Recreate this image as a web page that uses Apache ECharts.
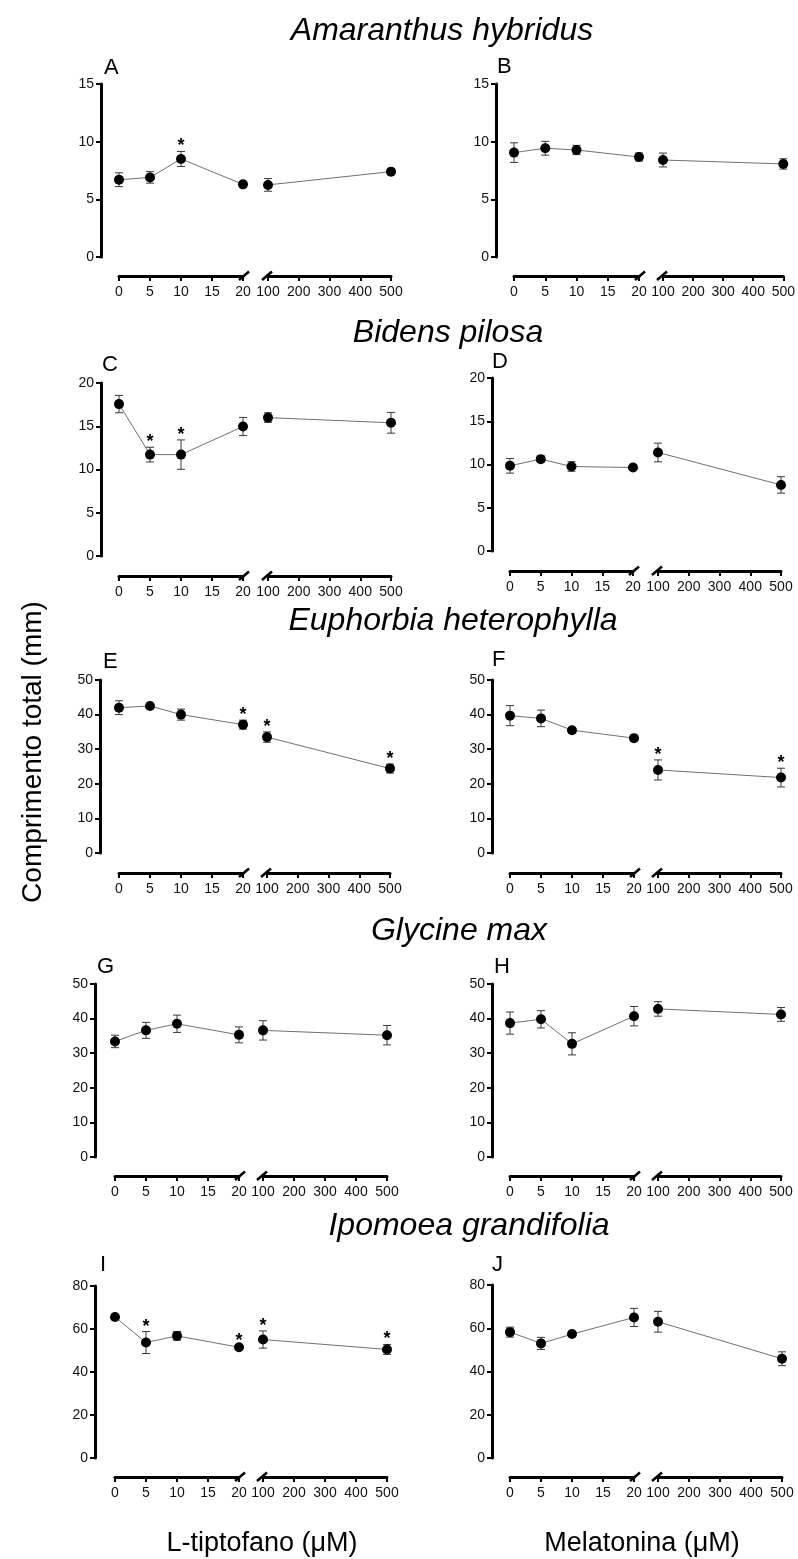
<!DOCTYPE html>
<html><head><meta charset="utf-8">
<script src="https://cdn.jsdelivr.net/npm/echarts@6/dist/echarts.min.js"></script>
<style>html,body{margin:0;padding:0;background:#fff}#c{width:798px;height:1559px}</style>
</head><body><div id="c"></div>
<script>
// ---------- DATA ----------
const lowDoses = [0, 5, 10, 20];       // µM, left axis segment
const highDoses = [100, 500];          // µM, right axis segment
const lowTicks = ['0', '5', '10', '15', '20'];
const highTicks = ['100', '200', '300', '400', '500'];
const species = ['Amaranthus hybridus', 'Bidens pilosa', 'Euphorbia heterophylla', 'Glycine max', 'Ipomoea grandifolia'];
const panelLetters = ['A', 'B', 'C', 'D', 'E', 'F', 'G', 'H', 'I', 'J'];
const yMaxes = [15, 15, 20, 20, 50, 50, 50, 50, 80, 80];
const yIntervals = [5, 5, 5, 5, 10, 10, 10, 10, 20, 20];
const xTitles = ['L-tiptofano (\u03BCM)', 'Melatonina (\u03BCM)'];
const yTitle = 'Comprimento total (mm)';

// means for doses 0,5,10,20,100,500 ; error = SE ; sig = asterisk
const meanA = [6.7, 6.9, 8.5, 6.3, 6.25, 7.4];
const errA  = [0.6, 0.5, 0.65, 0.2, 0.55, 0.15];
const sigA  = [0, 0, 1, 0, 0, 0];
const meanB = [9.05, 9.43, 9.28, 8.67, 8.41, 8.07];
const errB  = [0.85, 0.6, 0.4, 0.35, 0.6, 0.45];
const sigB  = [0, 0, 0, 0, 0, 0];
const meanC = [17.56, 11.72, 11.72, 14.97, 16.0, 15.4];
const errC  = [1.0, 0.85, 1.7, 1.05, 0.55, 1.2];
const sigC  = [0, 1, 1, 0, 0, 0];
const meanD = [9.85, 10.62, 9.77, 9.65, 11.39, 7.64];
const errD  = [0.85, 0.35, 0.55, 0.2, 1.08, 0.95];
const sigD  = [0, 0, 0, 0, 0, 0];
const meanE = [42.0, 42.5, 40.0, 37.1, 33.5, 24.4];
const errE  = [2.0, 0.7, 1.6, 1.3, 1.5, 1.3];
const sigE  = [0, 0, 0, 1, 1, 1];
const meanF = [39.7, 38.9, 35.5, 33.2, 24.0, 21.8];
const errF  = [2.9, 2.4, 0.5, 0.4, 2.9, 2.7];
const sigF  = [0, 0, 0, 0, 1, 1];
const meanG = [33.4, 36.6, 38.5, 35.3, 36.6, 35.2];
const errG  = [1.8, 2.3, 2.5, 2.3, 2.8, 2.8];
const sigG  = [0, 0, 0, 0, 0, 0];
const meanH = [38.7, 39.8, 32.7, 40.7, 42.8, 41.2];
const errH  = [3.2, 2.5, 3.2, 2.8, 2.1, 2.0];
const sigH  = [0, 0, 0, 0, 0, 0];
const meanI = [65.6, 53.7, 56.8, 51.5, 55.1, 50.5];
const errI  = [0.6, 5.1, 2.0, 0.8, 4.0, 2.3];
const sigI  = [0, 1, 0, 1, 1, 1];
const meanJ = [58.2, 53.0, 57.3, 65.0, 63.0, 45.9];
const errJ  = [2.3, 2.8, 1.0, 4.2, 4.8, 3.2];
const sigJ  = [0, 0, 0, 0, 0, 0];

const means = [meanA, meanB, meanC, meanD, meanE, meanF, meanG, meanH, meanI, meanJ];
const errs  = [errA, errB, errC, errD, errE, errF, errG, errH, errI, errJ];
const sigs  = [sigA, sigB, sigC, sigD, sigE, sigF, sigG, sigH, sigI, sigJ];

// ---------- LAYOUT (pixels) ----------
// [yAxisX, yTop, yZero, xAxisLineY, x0, x20, x100, x500]
const layout = [
  [101, 84, 257, 276, 119, 243, 268, 391],
  [496, 84, 257, 276, 514, 639, 663, 786],
  [101, 383, 556, 576, 119, 243, 268, 391],
  [492, 378, 551, 571, 510, 633, 658, 781],
  [100, 680, 853, 873, 119, 243, 267, 390],
  [492, 680, 853, 873, 510, 634, 658, 781],
  [95, 984, 1157, 1176, 115, 239, 263, 387],
  [492, 984, 1157, 1176, 510, 634, 658, 781],
  [95, 1286, 1458, 1477, 115, 239, 263, 387],
  [492, 1285, 1458, 1477, 510, 634, 658, 782]
];
const letterPos = [[104,78],[497,77],[102,375],[492,372],[103,672],[492,670],[97,977],[494,977],[100,1275],[492,1275]];
const titlePos = [[442,31],[448,333],[453,621],[459,931],[469,1226]];

const FONT = '"Liberation Sans", Arial, sans-serif';

const grids = [], xAxes = [], yAxes = [], series = [], graphics = [];

function errRender(params, api) {
  const x = api.value(0), m = api.value(1), e = api.value(2), s = api.value(3);
  const top = api.coord([x, m + e]);
  const bot = api.coord([x, m - e]);
  const cw = 4;
  const st = { stroke: '#3a3a3a', lineWidth: 1 };
  const ch = [
    { type: 'line', shape: { x1: top[0], y1: top[1], x2: bot[0], y2: bot[1] }, style: st },
    { type: 'line', shape: { x1: top[0] - cw, y1: top[1], x2: top[0] + cw, y2: top[1] }, style: st },
    { type: 'line', shape: { x1: bot[0] - cw, y1: bot[1], x2: bot[0] + cw, y2: bot[1] }, style: st }
  ];
  if (s) {
    ch.push({ type: 'text', x: top[0], y: top[1] - 5,
      style: { text: '*', fontSize: 18, fontWeight: 'bold', fontFamily: FONT, fill: '#000', align: 'center', verticalAlign: 'middle' } });
  }
  return { type: 'group', children: ch };
}

function makeSlash(off, dxa, dxb) {
  return function (params, api) {
    const p = api.coord([api.value(0), api.value(1)]);
    const ly = p[1] + off;
    return { type: 'line', shape: { x1: p[0] + dxa, y1: ly + 4, x2: p[0] + dxb, y2: ly - 4.5 },
      style: { stroke: '#000', lineWidth: 2.5 } };
  };
}

for (let p = 0; p < 10; p++) {
  const [yx, yTop, y0, xLine, x0, x20, x100, x500] = layout[p];
  const gL = grids.length, gR = gL + 1;
  grids.push({ left: x0, top: yTop, width: x20 - x0, height: y0 - yTop, containLabel: false });
  grids.push({ left: x100, top: yTop, width: x500 - x100, height: y0 - yTop, containLabel: false });
  const xOff = xLine - y0;
  const axLine = { show: true, onZero: false, lineStyle: { color: '#000', width: 3 } };
  const axTick = { show: true, length: 5, lineStyle: { color: '#000', width: 2 } };
  const axLab = { color: '#111', fontSize: 14, fontFamily: FONT };
  xAxes.push({ gridIndex: gL, type: 'value', min: 0, max: 20, interval: 5, position: 'bottom', offset: xOff,
    axisLine: axLine, axisTick: axTick, splitLine: { show: false },
    axisLabel: Object.assign({ margin: 9, formatter: v => lowTicks[Math.round(v / 5)] }, axLab) });
  xAxes.push({ gridIndex: gR, type: 'value', min: 100, max: 500, interval: 100, position: 'bottom', offset: xOff,
    axisLine: axLine, axisTick: axTick, splitLine: { show: false },
    axisLabel: Object.assign({ margin: 9, formatter: v => highTicks[Math.round(v / 100) - 1] }, axLab) });
  yAxes.push({ gridIndex: gL, type: 'value', min: 0, max: yMaxes[p], interval: yIntervals[p], position: 'left', offset: x0 - yx,
    axisLine: axLine, axisTick: axTick, splitLine: { show: false },
    axisLabel: Object.assign({ margin: 7 }, axLab) });
  yAxes.push({ gridIndex: gR, type: 'value', min: 0, max: yMaxes[p], interval: yIntervals[p], show: false, splitLine: { show: false } });

  const m = means[p], e = errs[p], s = sigs[p];
  const lowPts = lowDoses.map((d, i) => [d, m[i]]);
  const highPts = highDoses.map((d, i) => [d, m[i + 4]]);
  const lowErr = lowDoses.map((d, i) => [d, m[i], e[i], s[i]]);
  const highErr = highDoses.map((d, i) => [d, m[i + 4], e[i + 4], s[i + 4]]);
  [[gL, lowPts, lowErr], [gR, highPts, highErr]].forEach(([g, pts, er]) => {
    series.push({ type: 'custom', xAxisIndex: g, yAxisIndex: g, data: er, renderItem: errRender, clip: false, silent: true, z: 2 });
    series.push({ type: 'line', xAxisIndex: g, yAxisIndex: g, data: pts, symbol: 'circle', symbolSize: 10, clip: false,
      itemStyle: { color: '#000' }, lineStyle: { color: '#707070', width: 1 }, silent: true, z: 3 });
  });
  series.push({ type: 'custom', xAxisIndex: gL, yAxisIndex: gL, data: [[lowDoses[3], 0]], renderItem: makeSlash(xOff, -4, 6), clip: false, silent: true, z: 4 });
  series.push({ type: 'custom', xAxisIndex: gR, yAxisIndex: gR, data: [[highDoses[0], 0]], renderItem: makeSlash(xOff, -6, 4), clip: false, silent: true, z: 4 });

  graphics.push({ type: 'text', left: letterPos[p][0], top: letterPos[p][1] - 21,
    style: { text: panelLetters[p], fontSize: 22, fontFamily: FONT, fill: '#000' } });
}

species.forEach((sp, i) => {
  graphics.push({ type: 'text', x: titlePos[i][0], y: titlePos[i][1],
    style: { text: sp, fontSize: 32, fontStyle: 'italic', fontFamily: FONT, fill: '#000', align: 'center', verticalAlign: 'middle' } });
});
graphics.push({ type: 'text', x: 262, y: 1544, style: { text: xTitles[0], fontSize: 27, fontFamily: FONT, fill: '#000', align: 'center', verticalAlign: 'middle' } });
graphics.push({ type: 'text', x: 642, y: 1544, style: { text: xTitles[1], fontSize: 27, fontFamily: FONT, fill: '#000', align: 'center', verticalAlign: 'middle' } });
graphics.push({ type: 'text', x: 33, y: 752, rotation: Math.PI / 2,
  style: { text: yTitle, fontSize: 28, fontFamily: FONT, fill: '#000', align: 'center', verticalAlign: 'middle' } });

const chart = echarts.init(document.getElementById('c'), null, { renderer: 'canvas' });
chart.setOption({
  animation: false,
  backgroundColor: '#fff',
  textStyle: { fontFamily: FONT },
  grid: grids, xAxis: xAxes, yAxis: yAxes, series: series, graphic: graphics
});
</script></body></html>
